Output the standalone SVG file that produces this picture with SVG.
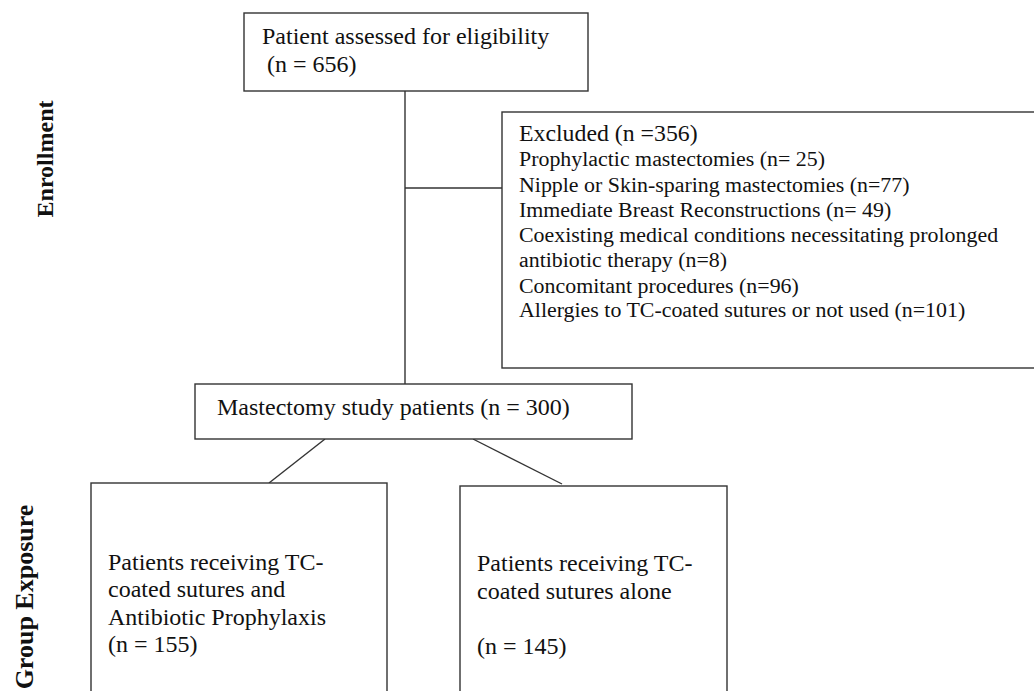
<svg xmlns="http://www.w3.org/2000/svg" width="1034" height="691" viewBox="0 0 1034 691">
<style>
.box{fill:#fff;stroke:#333;stroke-width:1.4}
.t{font-family:"Liberation Serif","Times New Roman",serif;font-size:24px;fill:#111}
.s{font-family:"Liberation Serif","Times New Roman",serif;font-size:21.9px;fill:#111}
.h{font-family:"Liberation Serif","Times New Roman",serif;font-size:23.8px;fill:#111}
.lab{font-family:"Liberation Serif","Times New Roman",serif;font-weight:bold;fill:#111}
.c{stroke:#333;stroke-width:1.4;fill:none}
</style>
<rect width="1034" height="691" fill="#fff"/>
<g id="connectors">
<line class="c" x1="405" y1="91" x2="405" y2="384"/>
<line class="c" x1="405" y1="188" x2="502" y2="188"/>
<line class="c" x1="325" y1="439" x2="269" y2="483"/>
<line class="c" x1="473" y1="439" x2="562" y2="484"/>
</g>
<g id="label-enrollment">
<text class="lab" font-size="24" transform="translate(53,159) rotate(-90)" text-anchor="middle" textLength="117" lengthAdjust="spacingAndGlyphs">Enrollment</text>
</g>
<g id="label-group-exposure">
<text class="lab" font-size="26" transform="translate(33,597) rotate(-90)" text-anchor="middle">Group Exposure</text>
</g>
<g id="assessed">
<rect class="box" x="244" y="13" width="344" height="78"/>
<text class="t" x="262" y="44">Patient assessed for eligibility</text>
<text class="t" x="267" y="72">(n = 656)</text>
</g>
<g id="excluded">
<rect class="box" x="502" y="112" width="540" height="256"/>
<text class="h" x="519" y="141">Excluded (n =356)</text>
<text class="s" x="519" y="166">Prophylactic mastectomies (n= 25)</text>
<text class="s" x="519" y="192">Nipple or Skin-sparing mastectomies (n=77)</text>
<text class="s" x="519" y="217">Immediate Breast Reconstructions (n= 49)</text>
<text class="s" x="519" y="242">Coexisting medical conditions necessitating prolonged</text>
<text class="s" x="519" y="267">antibiotic therapy (n=8)</text>
<text class="s" x="519" y="293">Concomitant procedures (n=96)</text>
<text class="s" x="519" y="317">Allergies to TC-coated sutures or not used (n=101)</text>
</g>
<g id="study">
<rect class="box" x="195" y="384" width="437" height="55"/>
<text class="t" x="217" y="415">Mastectomy study patients (n = 300)</text>
</g>
<g id="tc-antibiotic">
<rect class="box" x="91" y="483" width="296" height="220"/>
<text class="t" x="108" y="570">Patients receiving TC-</text>
<text class="t" x="108" y="597">coated sutures and</text>
<text class="t" x="108" y="625">Antibiotic Prophylaxis</text>
<text class="t" x="108" y="652">(n = 155)</text>
</g>
<g id="tc-alone">
<rect class="box" x="460" y="486" width="267" height="217"/>
<text class="t" x="477" y="571">Patients receiving TC-</text>
<text class="t" x="477" y="599">coated sutures alone</text>
<text class="t" x="477" y="654">(n = 145)</text>
</g>
</svg>
